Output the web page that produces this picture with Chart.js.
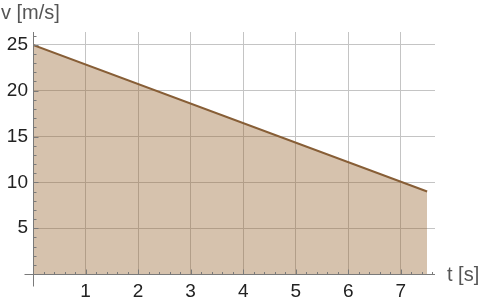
<!DOCTYPE html>
<html>
<head>
<meta charset="utf-8">
<script src="https://cdn.jsdelivr.net/npm/chart.js@4/dist/chart.umd.min.js"></script>
<style>
  html, body { margin: 0; padding: 0; background: #fff; }
  canvas { display: block; }
</style>
</head>
<body>
<canvas id="c" width="480" height="302"></canvas>
<script>
// Data
const tValues = [0, 7.5];          // t [s]
const vValues = [25, 9];           // v [m/s]
const xTicks = [1, 2, 3, 4, 5, 6, 7];
const yTicks = [5, 10, 15, 20, 25];
const xLabel = 't [s]';
const yLabel = 'v [m/s]';

const points = tValues.map((t, i) => ({ x: t, y: vValues[i] }));

const FONT = 'Liberation Sans';
const AXIS_COLOR = '#7a7a7a';

const axesPlugin = {
  id: 'mathAxes',
  afterDatasetsDraw(chart) {
    const ctx = chart.ctx;
    const xs = chart.scales.x, ys = chart.scales.y;
    const x0 = Math.round(xs.getPixelForValue(0)) + 0.5;
    const y0 = Math.round(ys.getPixelForValue(0)) + 0.5;
    ctx.save();
    ctx.strokeStyle = AXIS_COLOR;
    ctx.lineWidth = 1;
    ctx.beginPath();
    // axes
    ctx.moveTo(x0 - 9, y0); ctx.lineTo(xs.right, y0);
    ctx.moveTo(x0, y0 + 12); ctx.lineTo(x0, ys.top);
    // x ticks (minor every 0.2)
    for (let i = 1; i * 0.2 <= xs.max + 1e-9; i++) {
      const px = Math.round(xs.getPixelForValue(i * 0.2)) + 0.5;
      const len = (i % 5 === 0) ? 5 : 2.5;
      ctx.moveTo(px, y0); ctx.lineTo(px, y0 - len);
    }
    // y ticks (minor every 1)
    for (let v = 1; v <= ys.max; v++) {
      const py = Math.round(ys.getPixelForValue(v)) + 0.5;
      const len = (v % 5 === 0) ? 5 : 3;
      ctx.moveTo(x0, py); ctx.lineTo(x0 + len, py);
    }
    ctx.stroke();
    // axis labels
    ctx.fillStyle = '#555';
    ctx.font = '20px "' + FONT + '"';
    ctx.textBaseline = 'alphabetic';
    ctx.textAlign = 'left';
    ctx.fillText(yLabel, 1, 19);
    ctx.fillText(xLabel, 447, 281);
    ctx.restore();
  }
};

new Chart(document.getElementById('c'), {
  type: 'line',
  data: {
    datasets: [{
      data: points,
      borderColor: 'rgb(135,94,54)',
      backgroundColor: 'rgba(153,102,51,0.4)',
      borderWidth: 2,
      fill: 'origin',
      pointRadius: 0,
      tension: 0
    }]
  },
  options: {
    responsive: false,
    animation: false,
    devicePixelRatio: 1,
    layout: { padding: { top: 32, right: 45, left: 0, bottom: 0 } },
    plugins: { legend: { display: false }, tooltip: { enabled: false } },
    scales: {
      x: {
        type: 'linear',
        min: 0,
        max: 7.65,
        afterBuildTicks: s => { s.ticks = xTicks.map(v => ({ value: v })); },
        afterFit: s => { s.height = 28; },
        grid: { color: '#c4c4c4', lineWidth: 1, drawTicks: false },
        border: { display: false },
        ticks: {
          font: { family: FONT, size: 19 },
          color: '#222',
          padding: 6,
          maxRotation: 0,
          autoSkip: false
        }
      },
      y: {
        type: 'linear',
        min: 0,
        max: 26.4,
        afterBuildTicks: s => { s.ticks = yTicks.map(v => ({ value: v })); },
        afterFit: s => { s.width = 33; },
        grid: { color: '#c4c4c4', lineWidth: 1, drawTicks: false },
        border: { display: false },
        ticks: {
          font: { family: FONT, size: 19 },
          color: '#222',
          padding: 5,
          autoSkip: false
        }
      }
    }
  },
  plugins: [axesPlugin]
});
</script>
</body>
</html>
